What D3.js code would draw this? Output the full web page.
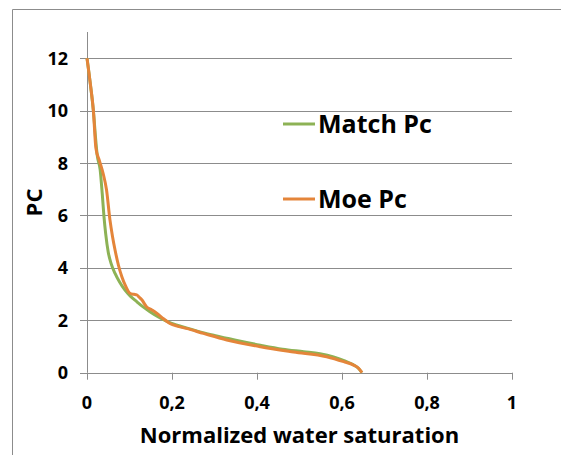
<!DOCTYPE html>
<html><head><meta charset="utf-8">
<script src="https://cdn.jsdelivr.net/npm/d3@7"></script>
<style>body{margin:0;background:#fff}svg{display:block}text{font-family:"Open Sans","Liberation Sans",Arial,sans-serif;font-weight:bold;fill:#000}</style>
</head><body>
<svg id="c" width="561" height="455"></svg>
<script>
const seriesNames = ["Match Pc", "Moe Pc"];
const matchX = [0, 0.008, 0.015, 0.021, 0.024, 0.031, 0.036, 0.040, 0.044, 0.050, 0.057, 0.066, 0.077, 0.089, 0.102, 0.117, 0.132, 0.148, 0.168, 0.188, 0.21, 0.24, 0.27, 0.30, 0.35, 0.408, 0.46, 0.51, 0.548, 0.58, 0.605, 0.625, 0.638, 0.647];
const matchY = [12, 11.0, 10.0, 8.8, 8.3, 7.74, 6.8, 5.95, 5.3, 4.6, 4.15, 3.79, 3.45, 3.16, 2.92, 2.71, 2.51, 2.33, 2.13, 1.96, 1.82, 1.68, 1.54, 1.42, 1.24, 1.05, 0.90, 0.80, 0.72, 0.60, 0.46, 0.32, 0.18, 0];
const moeX = [0, 0.008, 0.015, 0.021, 0.029, 0.038, 0.046, 0.054, 0.060, 0.066, 0.074, 0.082, 0.091, 0.101, 0.110, 0.117, 0.123, 0.129, 0.140, 0.152, 0.164, 0.180, 0.195, 0.214, 0.234, 0.274, 0.329, 0.408, 0.486, 0.564, 0.604, 0.627, 0.639, 0.647];
const moeY = [12, 11.0, 10.0, 8.56, 8.1, 7.6, 6.97, 5.83, 5.2, 4.68, 4.1, 3.66, 3.3, 3.03, 2.99, 2.97, 2.88, 2.78, 2.52, 2.4, 2.27, 2.06, 1.88, 1.77, 1.69, 1.50, 1.25, 0.99, 0.79, 0.61, 0.42, 0.29, 0.17, 0];
const xTicks = [0, 0.2, 0.4, 0.6, 0.8, 1];
const xTickLabels = ["0", "0,2", "0,4", "0,6", "0,8", "1"];
const yTicks = [0, 2, 4, 6, 8, 10, 12];
const colors = ["#8DB255", "#E4853A"];

const svg = d3.select("#c");
const x = d3.scaleLinear().domain([0, 1]).range([87, 512]);
const y = d3.scaleLinear().domain([0, 13]).range([372.7, 32]);

// chart border
svg.append("path").attr("d", "M12.5,455 V9.5 H561").attr("fill", "none").attr("stroke", "#8c8c8c").attr("stroke-width", 1);

// gridlines
svg.append("g").selectAll("line").data(yTicks).join("line")
  .attr("x1", 80).attr("x2", x(1))
  .attr("y1", d => Math.round(y(d)) + 0.5).attr("y2", d => Math.round(y(d)) + 0.5)
  .attr("stroke", "#8c8c8c").attr("stroke-width", 1);

// y axis line
svg.append("line").attr("x1", Math.round(x(0)) + 0.5).attr("x2", Math.round(x(0)) + 0.5)
  .attr("y1", y(13)).attr("y2", y(0)).attr("stroke", "#8c8c8c");

// x axis ticks
svg.append("g").selectAll("line").data(xTicks).join("line")
  .attr("x1", d => Math.round(x(d)) + 0.5).attr("x2", d => Math.round(x(d)) + 0.5)
  .attr("y1", y(0)).attr("y2", y(0) + 7).attr("stroke", "#8c8c8c");

// y tick labels
svg.append("g").selectAll("text").data(yTicks).join("text")
  .attr("x", 68).attr("y", d => y(d)).attr("dy", "0.36em")
  .attr("text-anchor", "end").attr("font-size", 18).text(d => d);

// x tick labels
svg.append("g").selectAll("text").data(xTicks).join("text")
  .attr("x", d => x(d)).attr("y", 409)
  .attr("text-anchor", "middle").attr("font-size", 18).text((d, i) => xTickLabels[i]);

// axis titles
svg.append("text").attr("x", (x(0) + x(1)) / 2).attr("y", 443).attr("text-anchor", "middle")
  .attr("font-size", 22).text("Normalized water saturation");
svg.append("text").attr("transform", "translate(42,202.5) rotate(-90)").attr("text-anchor", "middle")
  .attr("font-size", 22).text("PC");

// lines
const line = d3.line().x(d => x(d[0])).y(d => y(d[1])).curve(d3.curveMonotoneX);
const series = [d3.zip(matchX, matchY), d3.zip(moeX, moeY)];
svg.append("g").selectAll("path").data(series).join("path")
  .attr("d", line).attr("fill", "none")
  .attr("stroke", (d, i) => colors[i]).attr("stroke-width", 3).attr("stroke-linejoin", "round");

// legend
const legY = [124, 199];
const leg = svg.append("g").selectAll("g").data(seriesNames).join("g");
leg.append("line").attr("x1", 283).attr("x2", 315).attr("y1", (d, i) => legY[i]).attr("y2", (d, i) => legY[i])
  .attr("stroke", (d, i) => colors[i]).attr("stroke-width", 3);
leg.append("text").attr("x", 318).attr("y", (d, i) => legY[i] + 9).attr("font-size", 25).text(d => d);
</script>
</body></html>
